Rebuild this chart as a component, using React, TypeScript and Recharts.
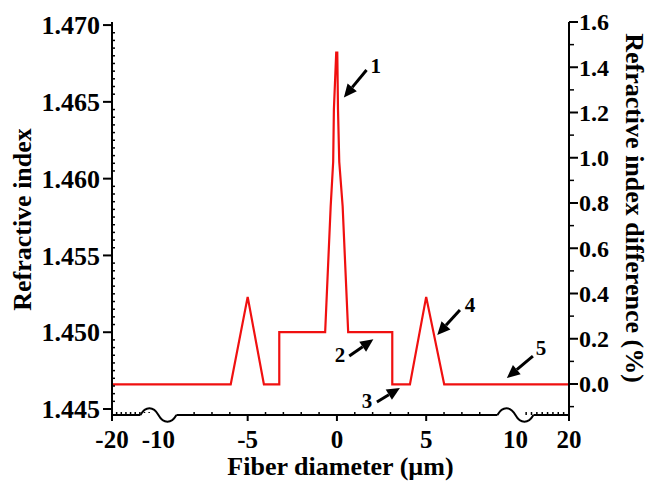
import { LineChart, Line, XAxis, YAxis, ReferenceDot, ReferenceLine } from 'recharts';

const FONT = '"Liberation Serif", "Times New Roman", serif';
const RED = '#f01010';

// index profile across the fiber: position (µm) and refractive index
const positions = [-20, -5.95, -5.0, -4.09, -3.23, -3.23, -0.66, -0.35, -0.21, -0.17, -0.04, 0.02, 0.06, 0.13, 0.32, 0.63, 3.1, 3.1, 4.09, 5.0, 6.01, 20];
const indices = [1.4466, 1.4466, 1.4523, 1.4466, 1.4466, 1.45, 1.45, 1.4582, 1.4611, 1.4645, 1.4682, 1.4682, 1.4645, 1.4611, 1.4582, 1.45, 1.45, 1.4466, 1.4466, 1.4523, 1.4466, 1.4466];

const xTickLabels = [-20, -10, -5, 0, 5, 10, 20];
const xBreaks = [-10, 10];
const leftTickLabels = [1.445, 1.45, 1.455, 1.46, 1.465, 1.47];
const rightTickLabels = [0, 0.2, 0.4, 0.6, 0.8, 1.0, 1.2, 1.4, 1.6];
const rightMinorTicks = [-0.1, 0.1, 0.3, 0.5, 0.7, 0.9, 1.1, 1.3, 1.5];

// numbered arrows: tail -> tip, and where the number sits
const markerLabels = ['1', '2', '3', '4', '5'];
const markerTipX = [0.39, 2.04, 3.53, 5.62, 9.52];
const markerTipY = [1.46529, 1.44954, 1.44637, 1.44982, 1.44702];
const markerTailX = [1.66, 0.69, 2.24, 6.89, 13.26];
const markerTailY = [1.46707, 1.44845, 1.44546, 1.45145, 1.44845];
const markerTextX = [2.18, 0.17, 1.68, 7.45, 14.76];
const markerTextY = [1.46733, 1.44852, 1.44552, 1.45177, 1.44897];

// axis is broken at +-10, outer parts squeezed
const warp = (x: number) => (x < -10 ? -10 + (x + 10) * 0.26 : x > 10 ? 10 + (x - 10) * 0.3 : x);

const rows = positions.map((x, i) => ({ x, n: indices[i] }));

const xMinor: number[] = [];
for (let v = -20; v <= 20; v++) {
  if (xTickLabels.includes(v)) continue;
  if (Math.abs(Math.abs(v) - 10) <= 1) continue;
  xMinor.push(v);
}
const xTicks = [...xTickLabels, ...xMinor].sort((a, b) => a - b).map(warp);

const leftMinor: number[] = [];
for (let k = 1; k < 50; k++) {
  if (k % 10 !== 0) leftMinor.push(1.445 + k * 0.0005);
}
const leftTicks = [...leftTickLabels, ...leftMinor].sort((a, b) => a - b);
const rightTicks = [...rightTickLabels, ...rightMinorTicks].sort((a, b) => a - b);

const near = (list: number[], v: number, eps = 1e-7) => list.find((m) => Math.abs(m - v) < eps);

const textStyle = { fontFamily: FONT, fontWeight: 'bold' as const, fill: '#000' };

function XTick({ x, y, payload }: any) {
  const real = xTickLabels.find((t) => Math.abs(warp(t) - payload.value) < 1e-6);
  if (real === undefined) {
    return <line x1={x} x2={x} y1={y} y2={y - 3} stroke="#000" strokeWidth={1.5} />;
  }
  const isBreak = xBreaks.includes(real);
  return (
    <g>
      {isBreak ? (
        <g>
          <rect x={x - 18} y={y - 2} width={36} height={4} fill="#fff" />
          <path
            d={`M${x - 18},${y} C${x - 13},${y - 9} ${x - 5},${y - 9} ${x},${y} C${x + 5},${y + 9} ${x + 13},${y + 9} ${x + 18},${y}`}
            fill="none"
            stroke="#000"
            strokeWidth={2}
          />
        </g>
      ) : (
        <line x1={x} x2={x} y1={y} y2={y + 6} stroke="#000" strokeWidth={2} />
      )}
      <text x={x} y={y + 33} textAnchor="middle" fontSize={25} {...textStyle}>
        {real}
      </text>
    </g>
  );
}

function LeftTick({ x, y, payload }: any) {
  const v = payload.value;
  if (near(leftTickLabels, v) === undefined) {
    return <line x1={x} x2={x + 3} y1={y} y2={y} stroke="#000" strokeWidth={1.5} />;
  }
  return (
    <g>
      <line x1={x - 9} x2={x} y1={y} y2={y} stroke="#000" strokeWidth={2} />
      <text x={x - 12} y={y} dy="0.35em" textAnchor="end" fontSize={26} {...textStyle}>
        {v.toFixed(3)}
      </text>
    </g>
  );
}

function RightTick({ x, y, payload }: any) {
  const v = payload.value;
  if (near(rightTickLabels, v) === undefined) {
    return <line x1={x} x2={x + 5} y1={y} y2={y} stroke="#000" strokeWidth={1.5} />;
  }
  return (
    <g>
      <line x1={x} x2={x + 9} y1={y} y2={y} stroke="#000" strokeWidth={2} />
      <text x={x + 10} y={y} dy="0.35em" textAnchor="start" fontSize={24} {...textStyle}>
        {v.toFixed(1)}
      </text>
    </g>
  );
}

function Arrow(props: any) {
  const { x1, y1, x2, y2 } = props;
  const dx = x2 - x1;
  const dy = y2 - y1;
  const len = Math.hypot(dx, dy) || 1;
  const ux = dx / len;
  const uy = dy / len;
  const head = 13;
  const half = 6;
  const bx = x2 - ux * head;
  const by = y2 - uy * head;
  return (
    <g>
      <line x1={x1} y1={y1} x2={bx} y2={by} stroke="#000" strokeWidth={3} />
      <polygon
        points={`${x2},${y2} ${bx - uy * half},${by + ux * half} ${bx + uy * half},${by - ux * half}`}
        fill="#000"
      />
    </g>
  );
}

export default function App() {
  return (
    <div style={{ position: 'absolute', left: 0, top: 0, width: 648, height: 485, background: '#fff' }}>
      <LineChart width={648} height={485} data={rows} margin={{ top: 22, right: 0, bottom: 0, left: 0 }}>
        <XAxis
          type="number"
          dataKey={(d: any) => warp(d.x)}
          domain={[warp(-20) - 0.0005, warp(20) + 0.0005]}
          ticks={xTicks}
          interval={0}
          allowDataOverflow
          height={70}
          tickSize={0}
          tickMargin={0}
          axisLine={{ stroke: '#000', strokeWidth: 2 }}
          tickLine={false}
          tick={<XTick />}
          label={(p: any) => {
            const vb = p.viewBox;
            return (
              <text x={vb.x + vb.width / 2} y={vb.y + 60} textAnchor="middle" fontSize={26} {...textStyle}>
                Fiber diameter (µm)
              </text>
            );
          }}
        />
        <YAxis
          yAxisId="left"
          type="number"
          domain={[1.44461, 1.4702]}
          ticks={leftTicks}
          interval={0}
          allowDataOverflow
          width={112}
          tickSize={0}
          tickMargin={0}
          axisLine={{ stroke: '#000', strokeWidth: 2 }}
          tickLine={false}
          tick={<LeftTick />}
          label={(p: any) => {
            const vb = p.viewBox;
            const cx = vb.x + 31;
            const cy = vb.y + vb.height / 2 + 1;
            return (
              <text x={cx} y={cy} transform={`rotate(-90, ${cx}, ${cy})`} textAnchor="middle" fontSize={26} {...textStyle}>
                Refractive index
              </text>
            );
          }}
        />
        <YAxis
          yAxisId="right"
          orientation="right"
          type="number"
          domain={[-0.137, 1.6]}
          ticks={rightTicks}
          interval={0}
          allowDataOverflow
          width={79}
          tickSize={0}
          tickMargin={0}
          axisLine={{ stroke: '#000', strokeWidth: 2 }}
          tickLine={false}
          tick={<RightTick />}
          label={(p: any) => {
            const vb = p.viewBox;
            const cx = vb.x + 57;
            const cy = 208;
            return (
              <text x={cx} y={cy} transform={`rotate(90, ${cx}, ${cy})`} textAnchor="middle" fontSize={26} {...textStyle}>
                Refractive index difference (%)
              </text>
            );
          }}
        />
        <Line
          yAxisId="left"
          type="linear"
          dataKey="n"
          stroke={RED}
          strokeWidth={2.2}
          dot={false}
          isAnimationActive={false}
        />
        {markerLabels.map((lab, i) => (
          <ReferenceLine
            key={`a${lab}`}
            yAxisId="left"
            ifOverflow="visible"
            segment={[
              { x: warp(markerTailX[i]), y: markerTailY[i] },
              { x: warp(markerTipX[i]), y: markerTipY[i] },
            ]}
            shape={(p: any) => <Arrow {...p} />}
          />
        ))}
        {markerLabels.map((lab, i) => (
          <ReferenceDot
            key={`t${lab}`}
            yAxisId="left"
            ifOverflow="visible"
            x={warp(markerTextX[i])}
            y={markerTextY[i]}
            r={0}
            shape={(p: any) => (
              <text x={p.cx} y={p.cy} dy="0.35em" textAnchor="middle" fontSize={21} {...textStyle}>
                {lab}
              </text>
            )}
          />
        ))}
      </LineChart>
    </div>
  );
}
